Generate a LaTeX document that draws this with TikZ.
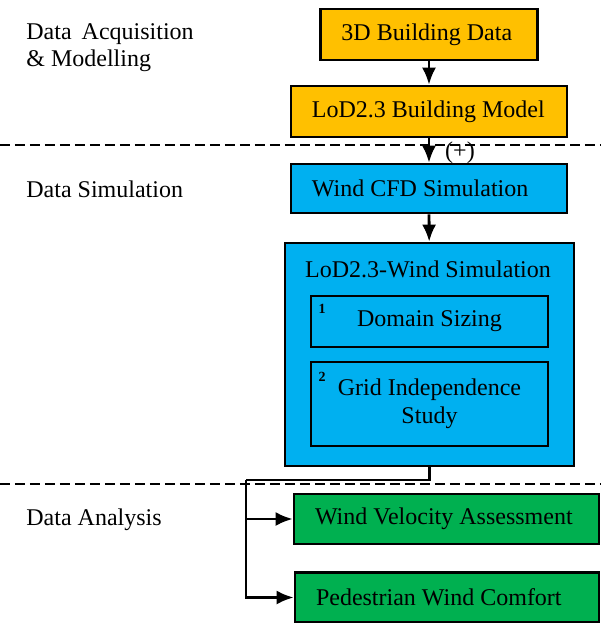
\documentclass[tikz,border=0pt]{standalone}
\usepackage{fontspec}
\setmainfont{Liberation Serif}
\usetikzlibrary{arrows.meta}
\definecolor{acqorange}{HTML}{FFC000}
\definecolor{simblue}{HTML}{00B0F0}
\definecolor{anagreen}{HTML}{00B050}
\newcommand{\lefttext}[2]{\makebox[#1][l]{#2}}
\newcommand{\twolines}[3]{\begin{tabular}{@{}#1@{}}#2\\#3\end{tabular}}
\tikzset{%
  boxfont/.style  = {font=\fontsize{12}{14}\selectfont},%
  stage/.style    = {shape=rectangle, draw, line width=1.3pt, boxfont,%
                     inner xsep=10.5pt, inner ysep=0pt},%
  acq/.style      = {stage, fill=acqorange, minimum height=25.5pt},%
  sim/.style      = {stage, fill=simblue},%
  ana/.style      = {stage, fill=anagreen, minimum height=25pt},%
  substep/.style  = {shape=rectangle, draw, line width=1.3pt, inner sep=0pt,%
                     minimum width=118.5pt, boxfont},%
  phase/.style    = {anchor=west, inner sep=0pt, font=\fontsize{12}{13.5}\selectfont},%
  stepnum/.style  = {inner sep=0pt, font=\fontsize{7}{7}\selectfont\bfseries},%
  flow/.style     = {line width=1.4pt, -{Latex[length=8.5pt,width=7pt]}},%
  divider/.style  = {line width=1pt, dash pattern=on 5pt off 2.5pt}%
}
\begin{document}
\begin{tikzpicture}[x=0.5pt, y=-0.5pt]
  \useasboundingbox (0,0) rectangle (601,623);
  % phase labels and dividers
  \node[phase] (acqlabel) at (26,48) {\twolines{l}{Data\hspace{5pt}Acquisition}{\& Modelling}};
  \node[phase] (simlabel) at (26,189) {Data Simulation};
  \node[phase] (analabel) at (26,520) {Data Analysis};
  \draw[divider] (0,145) -- (601,145);
  \draw[divider] (0,484) -- (601,484);
  % acquisition
  \node[acq] (data3d) at (429,34.5) {\lefttext{87.5pt}{3D Building Data}};
  \node[acq] (lodmodel) at (429,111.5) {\lefttext{117pt}{LoD2.3 Building Model}};
  % simulation
  \node[sim, minimum height=24.5pt] (cfd) at (429,188.5) {\lefttext{117pt}{Wind CFD Simulation}};
  \node[sim, inner sep=0pt, minimum width=144.5pt, minimum height=111.5pt] (windsim) at (429.5,354.5) {};
  \node[inner sep=0pt, boxfont] (windtitle) at (428,269) {LoD2.3-Wind Simulation};
  \node[substep, minimum height=25.5pt] (domain) at (429.5,321.5) {Domain Sizing};
  \node[substep, minimum height=42pt] (grid) at (429.5,404) {\twolines{c}{Grid Independence}{Study}};
  \node[stepnum] (num1) at (322,309) {1};
  \node[stepnum] (num2) at (322,377) {2};
  % analysis
  \node[ana] (velocity) at (446.5,519) {\lefttext{131.5pt}{Wind Velocity Assessment}};
  \node[ana] (comfort) at (447,597.5) {\lefttext{131pt}{Pedestrian Wind Comfort}};
  % connectors
  \draw[flow] (data3d) -- (lodmodel);
  \draw[flow] (lodmodel) -- (cfd);
  \node[inner sep=0pt, boxfont] (plus) at (460,153) {(+)};
  \draw[flow] (cfd) -- (windsim);
  \coordinate (split) at (246,480);
  \draw[line width=1.4pt] (windsim.south) |- (split);
  \draw[flow] (split) |- (comfort.west);
  \draw[flow] (split |- velocity.west) -- (velocity.west);
\end{tikzpicture}
\end{document}
